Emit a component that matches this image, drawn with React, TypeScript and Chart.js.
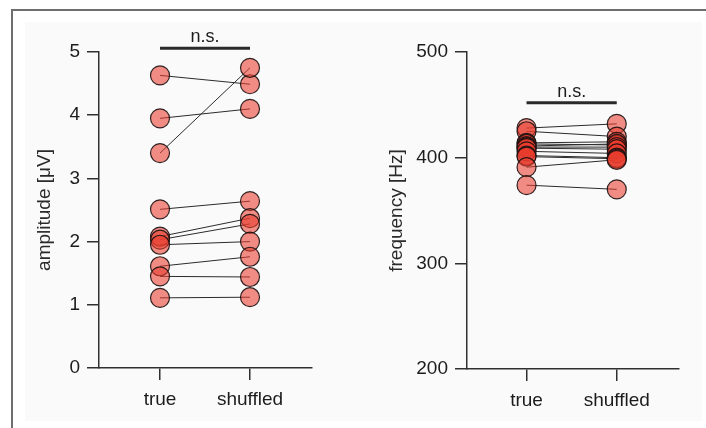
import { useEffect, useRef } from "react";
import { Chart, registerables } from "chart.js";

Chart.register(...registerables);

const FONT = '"Liberation Sans", Arial, Helvetica, sans-serif';
Chart.defaults.font.family = FONT;

// Conditions on the x axis
const groups = ["true", "shuffled"];

// Amplitude per recording, paired true vs shuffled
const amplitudeTrue = [4.63, 3.95, 3.4, 2.51, 2.08, 2.03, 1.95, 1.61, 1.45, 1.11];
const amplitudeShuffled = [4.49, 4.1, 4.75, 2.64, 2.37, 2.28, 2.0, 1.76, 1.44, 1.12];
const amplitudeTicks = [0, 1, 2, 3, 4, 5];

// Frequency per recording, paired true vs shuffled
const frequencyTrue = [428, 425, 414, 413, 411, 410, 409, 406, 402, 401, 391, 374];
const frequencyShuffled = [432, 420, 415, 412, 413, 410, 408, 404, 400, 399, 398, 370];
const frequencyTicks = [200, 300, 400, 500];

// Significance brackets
const significanceLabel = "n.s.";
const amplitudeBracket = 5.06;
const frequencyBracket = 452;

const INK = "#1c1c1c";
const AXIS = "#303030";

const bracketPlugin = {
  id: "bracket",
  afterDatasetsDraw(chart: any, _args: any, opts: any) {
    const { ctx } = chart;
    const x = chart.scales.x;
    const y = chart.scales.y;
    const py = y.getPixelForValue(opts.value);
    const x0 = x.getPixelForValue(0);
    const x1 = x.getPixelForValue(1);
    ctx.save();
    ctx.strokeStyle = "#2a2a2a";
    ctx.lineWidth = 3;
    ctx.beginPath();
    ctx.moveTo(x0, py);
    ctx.lineTo(x1, py);
    ctx.stroke();
    ctx.fillStyle = INK;
    ctx.font = `18px ${FONT}`;
    ctx.textAlign = "center";
    ctx.textBaseline = "alphabetic";
    ctx.fillText(opts.label, (x0 + x1) / 2, py - 6);
    ctx.restore();
  },
};

type PanelProps = {
  left: number;
  width: number;
  trueVals: number[];
  shuffledVals: number[];
  yTicks: number[];
  yTitle: string;
  bracket: number;
  xMin: number;
  xMax: number;
  yAxisWidth: number;
  padRight: number;
  xAxisHeight: number;
  titlePad: number;
};

function PairedPanel(p: PanelProps) {
  const ref = useRef<HTMLCanvasElement | null>(null);

  useEffect(() => {
    if (!ref.current) return;
    const pairLines = p.trueVals.map((t, i) => ({
      data: [
        { x: 0, y: t },
        { x: 1, y: p.shuffledVals[i] },
      ],
      showLine: true,
      borderColor: "#2b2b2b",
      borderWidth: 1,
      pointRadius: 0,
      pointHoverRadius: 0,
      order: 2,
      clip: false as any,
    }));
    const points = {
      data: [
        ...p.trueVals.map((v) => ({ x: 0, y: v })),
        ...p.shuffledVals.map((v) => ({ x: 1, y: v })),
      ],
      showLine: false,
      pointRadius: 9.5,
      pointHoverRadius: 9.5,
      backgroundColor: "rgba(232, 60, 45, 0.58)",
      borderColor: "rgba(25, 15, 15, 0.9)",
      borderWidth: 1.2,
      order: 1,
      clip: false as any,
    };

    const yMin = p.yTicks[0];
    const yMax = p.yTicks[p.yTicks.length - 1];

    const chart = new Chart(ref.current, {
      type: "scatter",
      data: { datasets: [...pairLines, points] as any },
      plugins: [bracketPlugin as any],
      options: {
        responsive: false,
        animation: false,
        devicePixelRatio: 1,
        events: [],
        layout: { padding: { top: 52, right: p.padRight, bottom: 0, left: 0 } },
        plugins: {
          legend: { display: false },
          tooltip: { enabled: false },
          bracket: { value: p.bracket, label: significanceLabel },
        } as any,
        scales: {
          x: {
            type: "linear",
            min: p.xMin,
            max: p.xMax,
            afterBuildTicks: (s: any) => {
              s.ticks = groups.map((_, i) => ({ value: i }));
            },
            afterFit: (s: any) => {
              s.height = p.xAxisHeight;
            },
            ticks: {
              callback: (v: any) => groups[Math.round(Number(v))] ?? "",
              font: { size: 19 },
              color: INK,
              padding: 8,
              autoSkip: false,
              maxRotation: 0,
            },
            grid: {
              drawOnChartArea: false,
              drawTicks: true,
              tickLength: 12,
              color: AXIS,
              lineWidth: 1.5,
            },
            border: { display: true, color: AXIS, width: 1.5 },
          },
          y: {
            type: "linear",
            min: yMin,
            max: yMax,
            afterBuildTicks: (s: any) => {
              s.ticks = p.yTicks.map((v) => ({ value: v }));
            },
            afterFit: (s: any) => {
              s.width = p.yAxisWidth;
            },
            ticks: {
              font: { size: 19 },
              color: INK,
              padding: 7,
            },
            grid: {
              drawOnChartArea: false,
              drawTicks: true,
              tickLength: 12,
              color: AXIS,
              lineWidth: 1.5,
            },
            border: { display: true, color: AXIS, width: 1.5 },
            title: {
              display: true,
              text: p.yTitle,
              font: { size: 19 },
              color: "#2a2a2a",
              padding: { top: p.titlePad, bottom: 0 },
            },
          },
        },
      } as any,
    });
    return () => chart.destroy();
  }, []);

  return (
    <canvas
      ref={ref}
      width={p.width}
      height={428}
      style={{ position: "absolute", left: p.left, top: 0, display: "block" }}
    />
  );
}

export default function App() {
  return (
    <div
      style={{
        position: "fixed",
        left: 0,
        top: 0,
        width: 706,
        height: 428,
        background: "#ffffff",
        overflow: "hidden",
      }}
    >
      <div
        style={{
          position: "absolute",
          left: 25,
          top: 22,
          width: 677,
          height: 399,
          background: "#fafafa",
        }}
      />
      <div
        style={{ position: "absolute", left: 11, top: 9, width: 695, height: 2, background: "#6e6e6e" }}
      />
      <div
        style={{ position: "absolute", left: 11, top: 9, width: 2, height: 419, background: "#6e6e6e" }}
      />
      <PairedPanel
        left={0}
        width={353}
        trueVals={amplitudeTrue}
        shuffledVals={amplitudeShuffled}
        yTicks={amplitudeTicks}
        yTitle="amplitude [μV]"
        bracket={amplitudeBracket}
        xMin={-0.678}
        xMax={1.689}
        yAxisWidth={99}
        padRight={41}
        xAxisHeight={60}
        titlePad={33.6}
      />
      <PairedPanel
        left={353}
        width={353}
        trueVals={frequencyTrue}
        shuffledVals={frequencyShuffled}
        yTicks={frequencyTicks}
        yTitle="frequency [Hz]"
        bracket={frequencyBracket}
        xMin={-0.66}
        xMax={1.69}
        yAxisWidth={114}
        padRight={27}
        xAxisHeight={59}
        titlePad={32.3}
      />
    </div>
  );
}
